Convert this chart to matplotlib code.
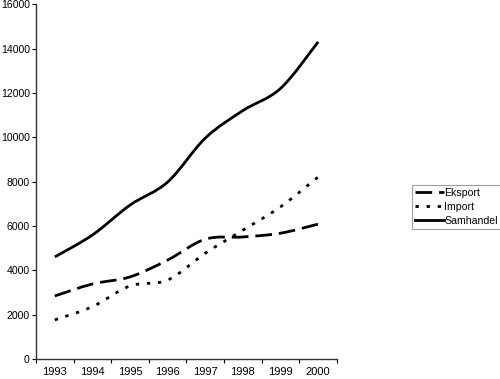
import matplotlib
matplotlib.use("Agg")
import matplotlib.pyplot as plt
import numpy as np
from matplotlib.path import Path
from matplotlib.patches import PathPatch
from matplotlib.lines import Line2D

plt.rcParams['font.family'] = ['Liberation Sans', 'DejaVu Sans']

years = ["1993", "1994", "1995", "1996", "1997", "1998", "1999", "2000"]
eksport = [2840, 3380, 3700, 4460, 5400, 5500, 5670, 6080]
importv = [1760, 2360, 3290, 3560, 4770, 5810, 6860, 8210]
samhandel = [4600, 5590, 6940, 7980, 9960, 11200, 12200, 14300]


def smooth_path(xs, ys, t=1/6):
    # bezier pieces through the points (excel style smoothing)
    xs = np.asarray(xs, float)
    ys = np.asarray(ys, float)
    n = len(xs)
    verts = [(xs[0], ys[0])]
    codes = [Path.MOVETO]
    for i in range(n - 1):
        p0 = i - 1 if i > 0 else i
        p3 = i + 2 if i + 2 < n else i + 1
        c1 = (xs[i] + (xs[i + 1] - xs[p0]) * t, ys[i] + (ys[i + 1] - ys[p0]) * t)
        c2 = (xs[i + 1] - (xs[p3] - xs[i]) * t, ys[i + 1] - (ys[p3] - ys[i]) * t)
        verts += [c1, c2, (xs[i + 1], ys[i + 1])]
        codes += [Path.CURVE4] * 3
    return Path(verts, codes)


fig = plt.figure(figsize=(5, 3.79), dpi=100)
ax = fig.add_axes([0.072, 0.053, 0.602, 0.936])

x = np.arange(len(years))
series = [
    ("Eksport", eksport, (0, (6, 2.5))),
    ("Import", importv, (0, (1.2, 2.8))),
    ("Samhandel", samhandel, "solid"),
]
handles = []
for name, vals, ls in series:
    patch = PathPatch(smooth_path(x, vals), facecolor="none", edgecolor="black",
                      linewidth=2, linestyle=ls, capstyle="butt")
    ax.add_patch(patch)
    handles.append(Line2D([], [], color="black", linewidth=2, linestyle=ls, label=name))

ax.set_xlim(-0.5, len(years) - 0.5)
ax.set_ylim(0, 16000)
ax.set_yticks(np.arange(0, 16001, 2000))
ax.set_xticks(np.arange(-0.5, len(years), 1))
ax.set_xticklabels([])
ax.set_xticks(x, minor=True)
ax.set_xticklabels(years, minor=True)
ax.tick_params(axis="x", which="minor", length=0, pad=6, labelsize=8)
ax.tick_params(axis="x", which="major", length=3, direction="out")
ax.tick_params(axis="y", length=3, direction="out", labelsize=7.6, pad=1.5)
for s in ["top", "right"]:
    ax.spines[s].set_visible(False)
for s in ["left", "bottom"]:
    ax.spines[s].set_linewidth(1)
    ax.spines[s].set_color("#333333")

leg = fig.legend(handles=handles, loc="upper left", bbox_to_anchor=(0.824, 0.512),
                 fontsize=7.6, frameon=True, fancybox=False, edgecolor="#888888",
                 handlelength=2.7, handletextpad=0.05, borderpad=0.3, labelspacing=0.35,
                 borderaxespad=0)
leg.get_frame().set_linewidth(0.8)

fig.savefig("out.png", dpi=100)
